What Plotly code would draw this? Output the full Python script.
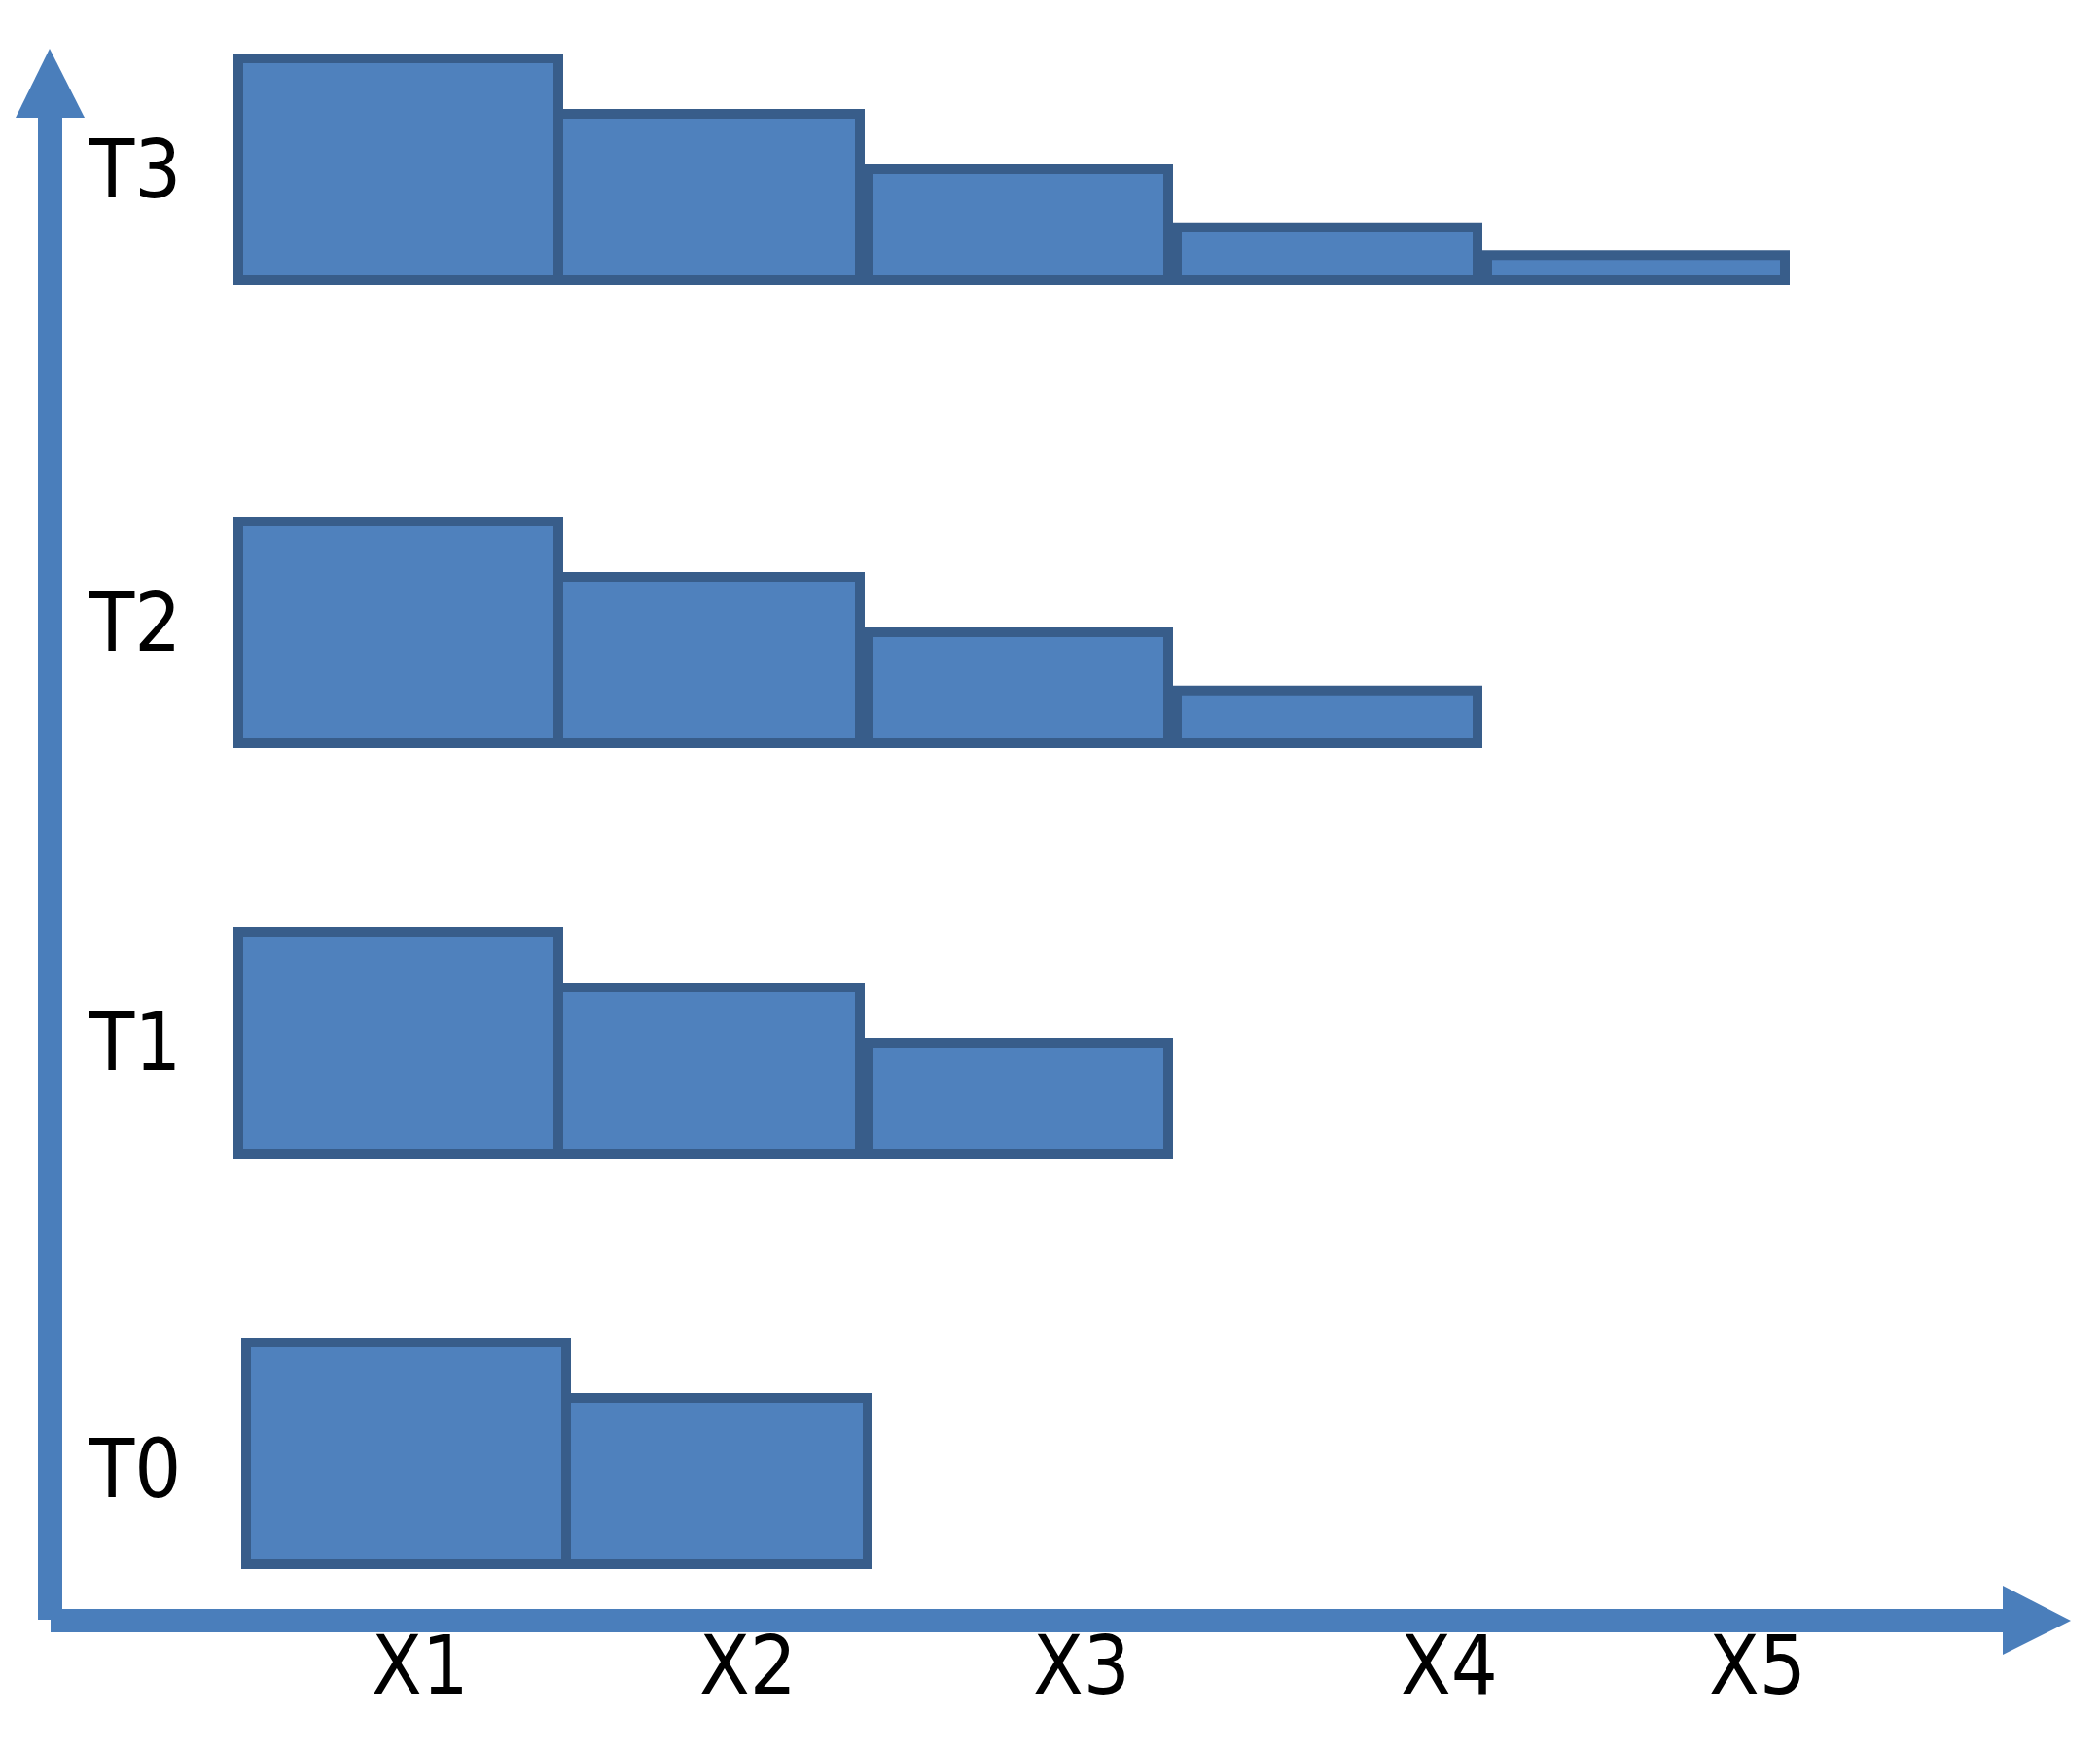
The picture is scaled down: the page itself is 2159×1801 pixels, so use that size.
import plotly.graph_objects as go

# ---------------- data ----------------
rows = ["T0", "T1", "T2", "T3"]
x_labels = ["X1", "X2", "X3", "X4", "X5"]
t0_values = [8, 6]
t1_values = [8, 6, 4]
t2_values = [8, 6, 4, 1.9]
t3_values = [8, 6, 4, 1.9, 0.9]
row_values = [t0_values, t1_values, t2_values, t3_values]

# ---------------- layout constants ----------------
PAGE_W, PAGE_H = 2159, 1801
OFF = 8                               # default body margin of the html page
W, H = PAGE_W - 2 * OFF, PAGE_H - 2 * OFF
X0_PX, X_UNIT_PX = 245, 308           # x-axis: unit column width in page pixels
Y_UNIT_PX = 28.5                      # y-axis: pixels per value unit

def ux(px):
    return (px - OFF - X0_PX) / X_UNIT_PX

def uy(py):
    return (H - (py - OFF)) / Y_UNIT_PX

col_edges = [(ux(245), ux(574)), (ux(574), ux(884)), (ux(893), ux(1201)),
             (ux(1210), ux(1519)), (ux(1529), ux(1835))]
row_base_px = [1608, 1186, 764, 288]
row_shift_px = [8, 0, 0, 0]
row_label_y_px = [1510, 1071, 640, 174]
xlabel_x_px = [432, 769, 1112, 1490, 1807]

FILL = "#4F81BD"
EDGE = "#385D8A"
AXIS = "#4A7EBB"
FONT = "Liberation Sans Narrow, DejaVu Sans Condensed, Liberation Sans, sans-serif"

fig = go.Figure()
for name, vals, base_px, shift in zip(rows, row_values, row_base_px, row_shift_px):
    n = len(vals)
    centers = [(a + b) / 2 + shift / X_UNIT_PX for a, b in col_edges[:n]]
    widths = [b - a for a, b in col_edges[:n]]
    fig.add_trace(go.Bar(
        x=centers, y=vals, width=widths, base=[uy(base_px)] * n,
        marker=dict(color=FILL, line=dict(color=EDGE, width=10)),
        name=name, showlegend=False, hoverinfo="skip",
    ))

annotations = []
for name, py in zip(rows, row_label_y_px):
    annotations.append(dict(x=ux(138), y=uy(py), xref="x", yref="y", text=name,
                            showarrow=False, xanchor="center", yanchor="middle",
                            font=dict(family=FONT, size=84, color="black")))
for lab, px in zip(x_labels, xlabel_x_px):
    annotations.append(dict(x=ux(px), y=uy(1712), xref="x", yref="y", text=lab,
                            showarrow=False, xanchor="center", yanchor="middle",
                            font=dict(family=FONT, size=84, color="black")))

def px2p(px):
    return (px - OFF) / W

def py2p(py):
    return 1 - (py - OFF) / H

def pp(px, py):
    return f"{px2p(px):.5f} {py2p(py):.5f}"

shapes = [
    # y axis shaft and arrowhead
    dict(type="rect", xref="paper", yref="paper", x0=px2p(39), x1=px2p(64),
         y0=py2p(1665), y1=py2p(120), fillcolor=AXIS, line=dict(width=0)),
    dict(type="path", xref="paper", yref="paper",
         path=f"M {pp(16,121)} L {pp(87,121)} L {pp(51,50)} Z",
         fillcolor=AXIS, line=dict(width=0)),
    # x axis shaft and arrowhead
    dict(type="rect", xref="paper", yref="paper", x0=px2p(52), x1=px2p(2060),
         y0=py2p(1678), y1=py2p(1654), fillcolor=AXIS, line=dict(width=0)),
    dict(type="path", xref="paper", yref="paper",
         path=f"M {pp(2059,1630)} L {pp(2059,1701)} L {pp(2129,1666)} Z",
         fillcolor=AXIS, line=dict(width=0)),
]

fig.update_layout(
    width=W, height=H, margin=dict(l=0, r=0, t=0, b=0),
    paper_bgcolor="white", plot_bgcolor="white",
    barmode="overlay",
    xaxis=dict(range=[ux(OFF), ux(OFF + W)], visible=False, fixedrange=True),
    yaxis=dict(range=[uy(OFF + H), uy(OFF)], visible=False, fixedrange=True),
    annotations=annotations, shapes=shapes,
)

fig.write_html("out.html")
